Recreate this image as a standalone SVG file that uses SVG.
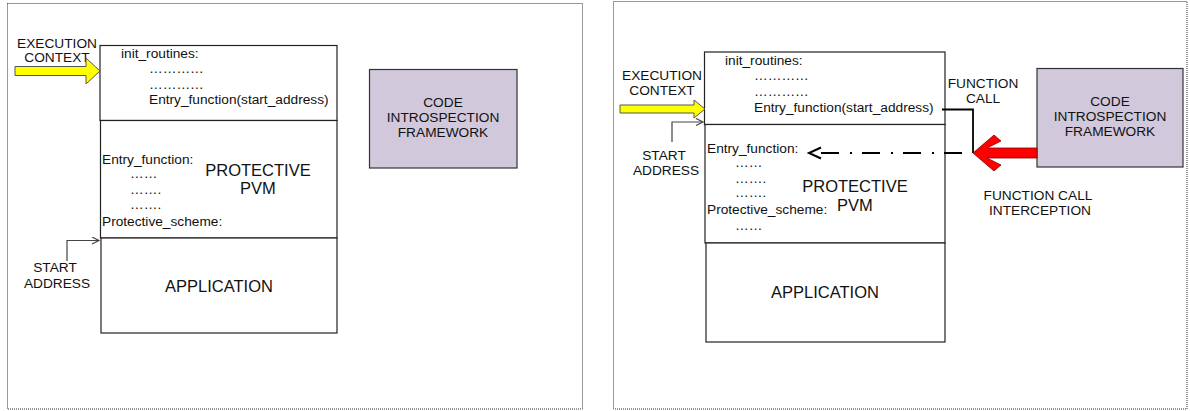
<svg xmlns="http://www.w3.org/2000/svg" width="1190" height="411" viewBox="0 0 1190 411">
<style>
.panel{fill:#fff;stroke:#333;stroke-width:1;stroke-dasharray:1 1}
.box{fill:#fff;stroke:#222;stroke-width:1.2}
.cif{fill:#d1c8dc;stroke:#333;stroke-width:1.2}
text{font-family:"Liberation Sans",Arial,sans-serif;fill:#111}
.s{font-size:13.7px}
.m{font-size:13.7px;text-anchor:middle}
.b{font-size:16.5px;text-anchor:middle}
.conn{fill:none;stroke:#444;stroke-width:1.2}
.yel{fill:#ffff00;stroke:#555;stroke-width:1}
</style>
<defs>
<marker id="open" markerWidth="10" markerHeight="10" refX="8" refY="4" orient="auto" markerUnits="userSpaceOnUse">
<path d="M1,0.5 L8,4 L1,7.5" fill="none" stroke="#444" stroke-width="1.2"/>
</marker>
</defs>
<rect width="1190" height="411" fill="#fff"/>
<g id="panel-left"><rect class="panel" x="7.5" y="3.5" width="575" height="405.5"/></g>
<g id="panel-right"><rect class="panel" x="613.5" y="1.5" width="573.5" height="407.5"/></g>

<!-- LEFT -->
<g id="l-exec">
<text class="m" x="57" y="48">EXECUTION</text>
<text class="m" x="57" y="62">CONTEXT</text>
</g>
<g id="l-init">
<rect class="box" x="100" y="45.5" width="237" height="75"/>
<text class="s" x="121" y="58">init_routines:</text>
<text class="s" x="149" y="73">…………</text>
<text class="s" x="149" y="89">…………</text>
<text class="s" x="149" y="104">Entry_function(start_address)</text>
</g>
<g id="l-pvm">
<rect class="box" x="100.5" y="120.5" width="236.5" height="117.5"/>
<text class="s" x="102" y="164">Entry_function:</text>
<text class="s" x="130" y="178">……</text>
<text class="s" x="130" y="194">…….</text>
<text class="s" x="130" y="209">…….</text>
<text class="s" x="102" y="226">Protective_scheme:</text>
<text class="b" x="258" y="176">PROTECTIVE</text>
<text class="b" x="258" y="194">PVM</text>
</g>
<g id="l-app">
<rect class="box" x="101" y="238" width="236" height="95"/>
<text class="b" x="219" y="292">APPLICATION</text>
</g>
<g id="l-start">
<text class="m" x="55" y="272">START</text>
<text class="m" x="57" y="288">ADDRESS</text>
</g>
<g id="l-cif">
<rect class="cif" x="369.5" y="69.5" width="147.5" height="98.5"/>
<text class="m" x="443" y="107">CODE</text>
<text class="m" x="443" y="122">INTROSPECTION</text>
<text class="m" x="443" y="137">FRAMEWORK</text>
</g>

<!-- RIGHT -->
<g id="r-exec">
<text class="m" x="662" y="80">EXECUTION</text>
<text class="m" x="662" y="95">CONTEXT</text>
</g>
<g id="r-init">
<rect class="box" x="704.5" y="52" width="240.5" height="72.5"/>
<text class="s" x="725" y="65">init_routines:</text>
<text class="s" x="754" y="80">…………</text>
<text class="s" x="754" y="96">…………</text>
<text class="s" x="754" y="112">Entry_function(start_address)</text>
</g>
<g id="r-pvm">
<rect class="box" x="705" y="124.5" width="240" height="118.5"/>
<text class="s" x="707" y="153">Entry_function:</text>
<text class="s" x="735" y="167">……</text>
<text class="s" x="735" y="183">…….</text>
<text class="s" x="735" y="197">…….</text>
<text class="s" x="707" y="214">Protective_scheme:</text>
<text class="s" x="735" y="230">……</text>
<text class="b" x="855" y="192">PROTECTIVE</text>
<text class="b" x="855" y="211">PVM</text>
</g>
<g id="r-app">
<rect class="box" x="706" y="243" width="239" height="99"/>
<text class="b" x="825" y="298">APPLICATION</text>
</g>
<g id="r-start">
<text class="m" x="664" y="160">START</text>
<text class="m" x="666" y="175">ADDRESS</text>
</g>
<g id="r-fcall-label">
<text class="m" x="983" y="88">FUNCTION</text>
<text class="m" x="983" y="103">CALL</text>
</g>
<g id="r-cif">
<rect class="cif" x="1037" y="68.5" width="146" height="98.5"/>
<text class="m" x="1110" y="106">CODE</text>
<text class="m" x="1110" y="121">INTROSPECTION</text>
<text class="m" x="1110" y="136">FRAMEWORK</text>
</g>
<g id="r-intercept-label">
<text class="m" x="1038" y="200">FUNCTION CALL</text>
<text class="m" x="1040" y="215">INTERCEPTION</text>
</g>

<g id="connectors">
<!-- left -->
<polygon class="yel" points="15,66.5 86,66.5 86,58 100,71 86,84 86,75.5 15,75.5"/>
<polyline class="conn" points="67,261 67,240.5 99,240.5" marker-end="url(#open)"/>
<!-- right -->
<polygon class="yel" points="620,105 694,105 694,100 705,109 694,118 694,113 620,113"/>
<polyline class="conn" points="672,142 672,122 703,122" marker-end="url(#open)"/>
<polyline fill="none" stroke="#000" stroke-width="1.8" points="942,109.5 973,109.5 973,153"/>
<line x1="962" y1="153" x2="820" y2="153" stroke="#000" stroke-width="2" stroke-dasharray="18 10 2 11"/>
<polyline fill="none" stroke="#000" stroke-width="2" points="821,147.5 809,153 821,158.5"/>
<polygon fill="#ff0000" stroke="#800000" stroke-width="0.8" points="973,153 994,135 1001,141 987,148 1037,148 1037,158 987,158 1001,165 994,171"/>
</g>
</svg>
